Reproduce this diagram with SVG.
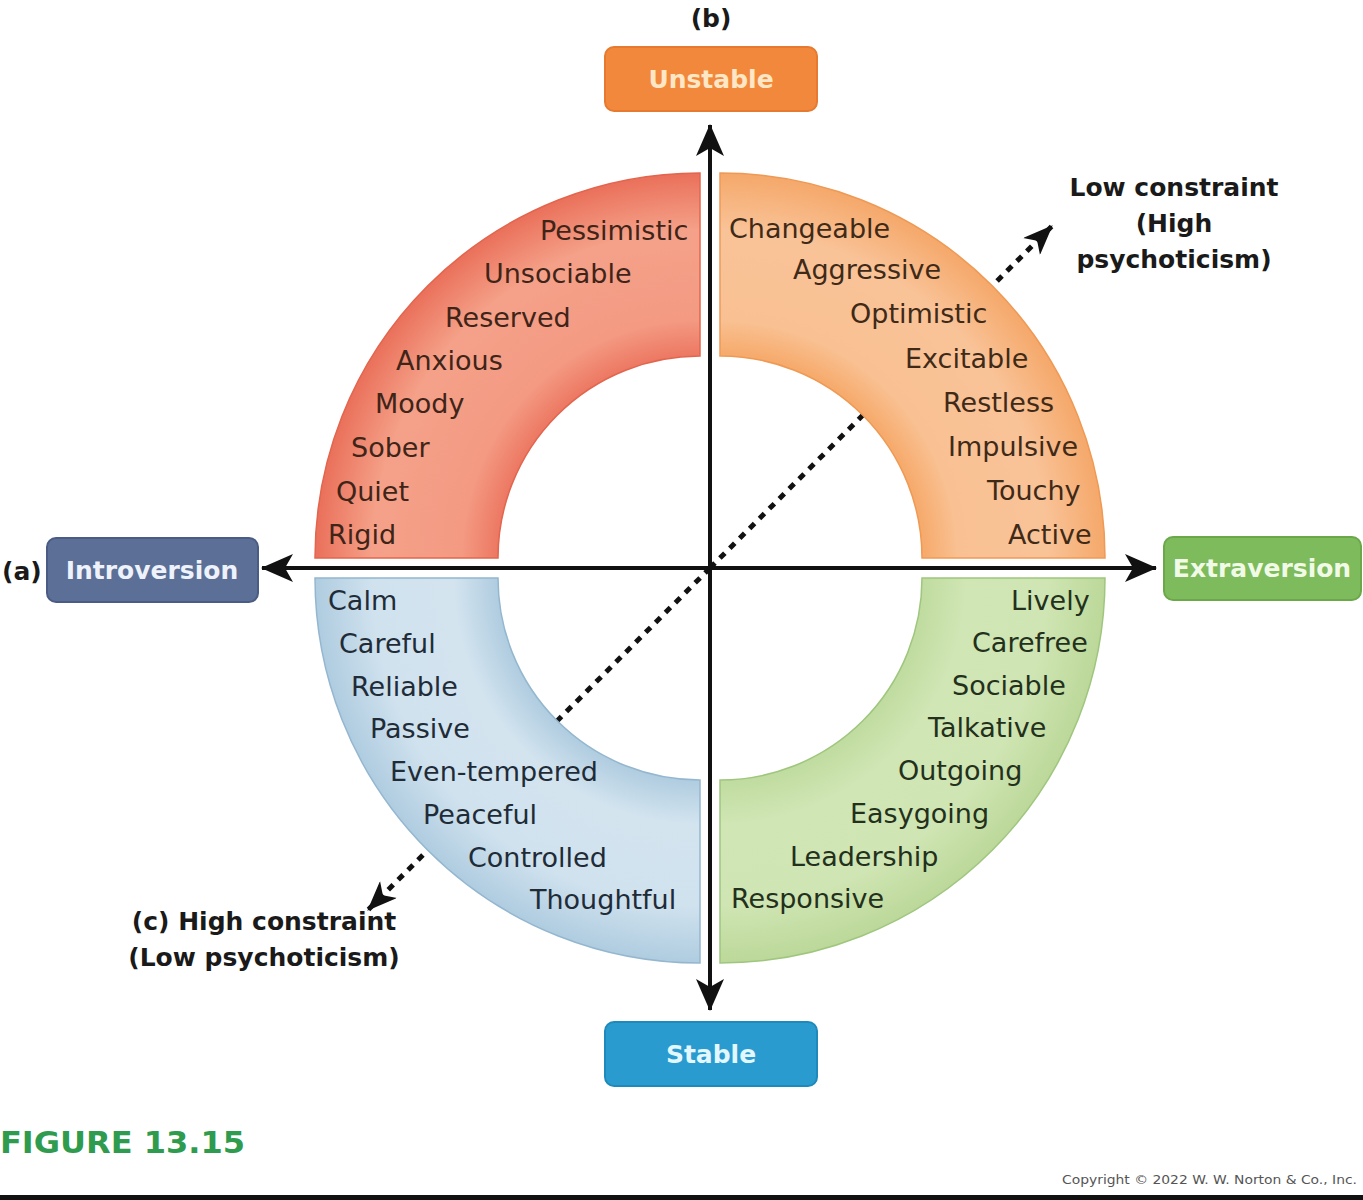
<svg xmlns="http://www.w3.org/2000/svg" width="1363" height="1200" viewBox="0 0 1363 1200">
<defs>
<style>
.w{font-family:"DejaVu Sans","Liberation Sans",sans-serif;font-size:27px}
.tl{fill:#3f2418}
.tr{fill:#3f2a18}
.bl{fill:#1f2c38}
.br{fill:#23301b}
.lbl{font-family:"DejaVu Sans","Liberation Sans",sans-serif;font-weight:bold;font-size:25px;fill:#1a1a1a}
.box{font-family:"DejaVu Sans","Liberation Sans",sans-serif;font-weight:bold;font-size:25px;text-anchor:middle}
.axis{stroke:#111;stroke-width:4;fill:none}
.dash{stroke:#111;stroke-width:5;fill:none;stroke-dasharray:7 7}
</style>
<marker id="ah" markerUnits="userSpaceOnUse" viewBox="0 0 32 28" markerWidth="32" markerHeight="28" refX="31" refY="14" orient="auto">
<path d="M0,0 L32,14 L0,28 L8,14 Z" fill="#111"/>
</marker>
<marker id="dh" markerUnits="userSpaceOnUse" viewBox="0 0 30 24" markerWidth="30" markerHeight="24" refX="29" refY="12" orient="auto">
<path d="M0,0 L30,12 L0,24 L8,12 Z" fill="#111"/>
</marker>
<radialGradient id="gTL" gradientUnits="userSpaceOnUse" cx="700" cy="558" r="385">
<stop offset="0.52" stop-color="#EC7660"/><stop offset="0.62" stop-color="#F49A83"/><stop offset="0.85" stop-color="#F5A189"/><stop offset="1" stop-color="#EA705A"/>
</radialGradient>
<radialGradient id="gTR" gradientUnits="userSpaceOnUse" cx="720" cy="558" r="385">
<stop offset="0.52" stop-color="#F6A868"/><stop offset="0.62" stop-color="#F9C193"/><stop offset="0.85" stop-color="#F9C398"/><stop offset="1" stop-color="#F5A86A"/>
</radialGradient>
<radialGradient id="gBL" gradientUnits="userSpaceOnUse" cx="700" cy="578" r="385">
<stop offset="0.52" stop-color="#AECBDF"/><stop offset="0.64" stop-color="#D3E4EF"/><stop offset="0.85" stop-color="#D0E2EE"/><stop offset="1" stop-color="#AFCCE0"/>
</radialGradient>
<radialGradient id="gBR" gradientUnits="userSpaceOnUse" cx="720" cy="578" r="385">
<stop offset="0.52" stop-color="#BFDB9E"/><stop offset="0.64" stop-color="#D0E6B5"/><stop offset="0.85" stop-color="#CFE5B3"/><stop offset="1" stop-color="#BCD899"/>
</radialGradient>
</defs>
<rect x="0" y="0" width="1363" height="1200" fill="#ffffff"/>

<g id="connectors-diagonal">
<line class="dash" x1="710" y1="568" x2="1052" y2="226" marker-end="url(#dh)"/>
<line class="dash" x1="710" y1="568" x2="368" y2="910" marker-end="url(#dh)"/>
</g>

<g id="q-unstable-introvert">
<path d="M315 558 A385 385 0 0 1 700 173 L700 356 A202 202 0 0 0 498 558 Z" fill="url(#gTL)" stroke="#E2654E" stroke-width="1.5"/>
<text class="w tl" x="540" y="240">Pessimistic</text>
<text class="w tl" x="484" y="283">Unsociable</text>
<text class="w tl" x="445" y="327">Reserved</text>
<text class="w tl" x="396" y="370">Anxious</text>
<text class="w tl" x="375" y="413">Moody</text>
<text class="w tl" x="351" y="457">Sober</text>
<text class="w tl" x="336" y="501">Quiet</text>
<text class="w tl" x="328" y="544">Rigid</text>
</g>

<g id="q-unstable-extravert">
<path d="M720 173 A385 385 0 0 1 1105 558 L922 558 A202 202 0 0 0 720 356 Z" fill="url(#gTR)" stroke="#EE9A55" stroke-width="1.5"/>
<text class="w tr" x="729" y="238">Changeable</text>
<text class="w tr" x="793" y="279">Aggressive</text>
<text class="w tr" x="850" y="323">Optimistic</text>
<text class="w tr" x="905" y="368">Excitable</text>
<text class="w tr" x="943" y="412">Restless</text>
<text class="w tr" x="948" y="456">Impulsive</text>
<text class="w tr" x="987" y="500">Touchy</text>
<text class="w tr" x="1008" y="544">Active</text>
</g>

<g id="q-stable-introvert">
<path d="M315 578 L498 578 A202 202 0 0 0 700 780 L700 963 A385 385 0 0 1 315 578 Z" fill="url(#gBL)" stroke="#94B7CF" stroke-width="1.5"/>
<text class="w bl" x="328" y="610">Calm</text>
<text class="w bl" x="339" y="653">Careful</text>
<text class="w bl" x="351" y="696">Reliable</text>
<text class="w bl" x="370" y="738">Passive</text>
<text class="w bl" x="390" y="781">Even-tempered</text>
<text class="w bl" x="423" y="824">Peaceful</text>
<text class="w bl" x="468" y="867">Controlled</text>
<text class="w bl" x="530" y="909">Thoughtful</text>
</g>

<g id="q-stable-extravert">
<path d="M720 780 A202 202 0 0 0 922 578 L1105 578 A385 385 0 0 1 720 963 Z" fill="url(#gBR)" stroke="#9FC67E" stroke-width="1.5"/>
<text class="w br" x="1011" y="610">Lively</text>
<text class="w br" x="972" y="652">Carefree</text>
<text class="w br" x="952" y="695">Sociable</text>
<text class="w br" x="928" y="737">Talkative</text>
<text class="w br" x="898" y="780">Outgoing</text>
<text class="w br" x="850" y="823">Easygoing</text>
<text class="w br" x="790" y="866">Leadership</text>
<text class="w br" x="731" y="908">Responsive</text>
</g>

<g id="connectors-axes">
<line class="axis" x1="710" y1="568" x2="710" y2="125" marker-end="url(#ah)"/>
<line class="axis" x1="710" y1="568" x2="710" y2="1010" marker-end="url(#ah)"/>
<line class="axis" x1="710" y1="568" x2="262" y2="568" marker-end="url(#ah)"/>
<line class="axis" x1="710" y1="568" x2="1156" y2="568" marker-end="url(#ah)"/>
</g>

<g id="n-unstable">
<text class="lbl" x="711" y="27" text-anchor="middle">(b)</text>
<rect x="605" y="47" width="212" height="64" rx="9" fill="#F2883C" stroke="#E57A30" stroke-width="2"/>
<text class="box" x="711" y="88" fill="#FFE7C6">Unstable</text>
</g>

<g id="n-stable">
<rect x="605" y="1022" width="212" height="64" rx="9" fill="#2A9BCF" stroke="#1E8ABB" stroke-width="2"/>
<text class="box" x="711" y="1063" fill="#E2F7FF">Stable</text>
</g>

<g id="n-introversion">
<text class="lbl" x="2" y="580">(a)</text>
<rect x="47" y="538" width="211" height="64" rx="9" fill="#5B6F97" stroke="#4A5C84" stroke-width="2"/>
<text class="box" x="152" y="579" fill="#EEF2FA">Introversion</text>
</g>

<g id="n-extraversion">
<rect x="1164" y="537" width="197" height="63" rx="9" fill="#7DBB5C" stroke="#6AA84A" stroke-width="2"/>
<text class="box" x="1262" y="577" fill="#F1FAE6">Extraversion</text>
</g>

<g id="n-low-constraint">
<text class="lbl" x="1174" y="196" text-anchor="middle">Low constraint</text>
<text class="lbl" x="1174" y="232" text-anchor="middle">(High</text>
<text class="lbl" x="1174" y="268" text-anchor="middle">psychoticism)</text>
</g>

<g id="n-high-constraint">
<text class="lbl" x="264" y="930" text-anchor="middle">(c) High constraint</text>
<text class="lbl" x="264" y="966" text-anchor="middle">(Low psychoticism)</text>
</g>

<text x="0" y="1153" font-family="'DejaVu Sans','Liberation Sans',sans-serif" font-weight="bold" font-size="31" fill="#2E9B4E" textLength="245" lengthAdjust="spacingAndGlyphs">FIGURE 13.15</text>
<text x="1062" y="1184" font-family="'DejaVu Sans','Liberation Sans',sans-serif" font-size="12.5" fill="#555" textLength="295" lengthAdjust="spacingAndGlyphs">Copyright © 2022 W. W. Norton &amp; Co., Inc.</text>
<rect x="0" y="1195" width="1363" height="5" fill="#111"/>
</svg>
